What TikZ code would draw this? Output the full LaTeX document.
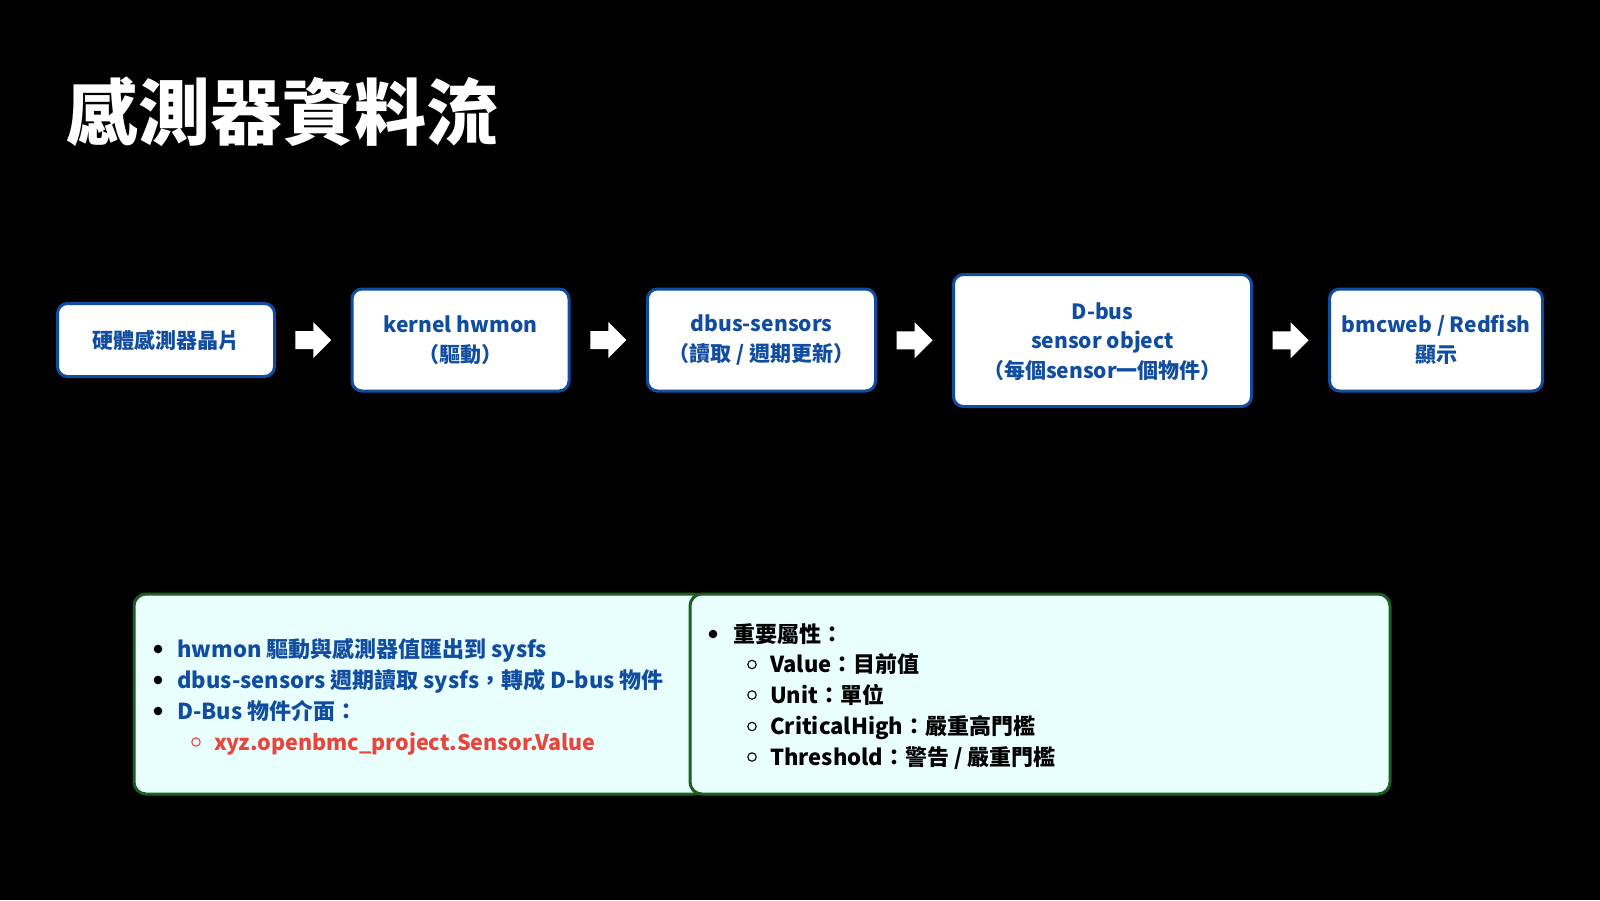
\documentclass[tikz,border=0pt]{standalone}
\usepackage{fontspec}
\setmainfont{Noto Sans CJK TC}
\usetikzlibrary{calc}
\definecolor{boxblue}{RGB}{16,76,160}
\definecolor{panelgreen}{RGB}{27,94,32}
\definecolor{panelfill}{RGB}{232,255,254}
\definecolor{redtext}{RGB}{232,69,60}
\begin{document}
\begin{tikzpicture}[x=1pt,y=-1pt,
  flowbox/.style={draw=boxblue, line width=3pt, fill=white, rounded corners=10pt,
    align=center, text=boxblue, font=\fontsize{21}{29.5}\selectfont\bfseries, inner sep=0pt},
  panel/.style={draw=panelgreen, line width=3pt, fill=panelfill, rounded corners=12pt},
  itemtext/.style={anchor=west, inner sep=0pt, font=\fontsize{22}{26}\selectfont\bfseries,
    text height=0.8em, text depth=0.2em, yshift=-5pt},
  dotbullet/.style={fill=black},
  ringbullet/.style={line width=1.1pt},
  blockarrow/.pic={\fill[white] (-18,-9) -- (0,-9) -- (0,-18) -- (18,0) -- (0,18) -- (0,9) -- (-18,9) -- cycle;}
]
\fill[black] (0,0) rectangle (1600,900);
\useasboundingbox (0,0) rectangle (1600,900);

% title
\node[anchor=west, inner sep=0pt, text=white, font=\fontsize{72}{80}\selectfont\bfseries] (title) at (66,112) {感測器資料流};

% flow boxes
\node[flowbox, minimum width=217pt, minimum height=73pt] (b1) at (166,340) {硬體感測器晶片};
\node[flowbox, minimum width=217pt, minimum height=102pt] (b2) at (460.5,340) {\raisebox{0pt}[\height][\depth]{kernel hwmon}\\（驅動）};
\node[flowbox, minimum width=228pt, minimum height=102pt] (b3) at (761.5,340) {dbus-sensors\\（讀取 / 週期更新）};
\node[flowbox, minimum width=298pt, minimum height=132pt, text depth=0pt] (b4) at (1102.5,340.5) {D-bus\\sensor object\\（每個sensor一個物件）};
\node[flowbox, minimum width=213pt, minimum height=102pt] (b5) at (1436,340) {bmcweb / Redfish\\顯示};

% block arrows
\path ($(b1.east)!0.5!(b2.west)$) pic {blockarrow};
\path ($(b2.east)!0.5!(b3.west)$) pic {blockarrow};
\path ($(b3.east)!0.5!(b4.west)$) pic {blockarrow};
\path ($(b4.east)!0.5!(b5.west)$) pic {blockarrow};

% panels
\draw[panel] (134,594) rectangle (705,794);
\draw[panel] (690,594) rectangle (1390,794);

% left panel text
\fill[dotbullet] (158,649) circle (4.3);
\node[itemtext, text=boxblue] (l1) at (177,649) {hwmon 驅動與感測器值匯出到 sysfs};
\fill[dotbullet] (158,680) circle (4.3);
\node[itemtext, text=boxblue] (l2) at (177,680) {dbus-sensors 週期讀取 sysfs，轉成 D-bus 物件};
\fill[dotbullet] (158,711) circle (4.3);
\node[itemtext, text=boxblue] (l3) at (177,711) {D-Bus 物件介面：};
\draw[ringbullet, redtext] (196,742) circle (4.2);
\node[itemtext, text=redtext, font=\fontsize{21.5}{26}\selectfont\bfseries] (l4) at (214,742) {xyz.openbmc\_project.Sensor.Value};

% right panel text
\fill[dotbullet] (713,634) circle (4.3);
\node[itemtext, text=black] (r1) at (733,634) {重要屬性：};
\draw[ringbullet, black] (752,664.5) circle (4.2);
\node[itemtext, text=black] (r2) at (770,664.5) {Value：目前值};
\draw[ringbullet, black] (752,695) circle (4.2);
\node[itemtext, text=black] (r3) at (770,695) {Unit：單位};
\draw[ringbullet, black] (752,726.5) circle (4.2);
\node[itemtext, text=black] (r4) at (770,726.5) {CriticalHigh：嚴重高門檻};
\draw[ringbullet, black] (752,757) circle (4.2);
\node[itemtext, text=black] (r5) at (770,757) {Threshold：警告 / 嚴重門檻};
\end{tikzpicture}
\end{document}
